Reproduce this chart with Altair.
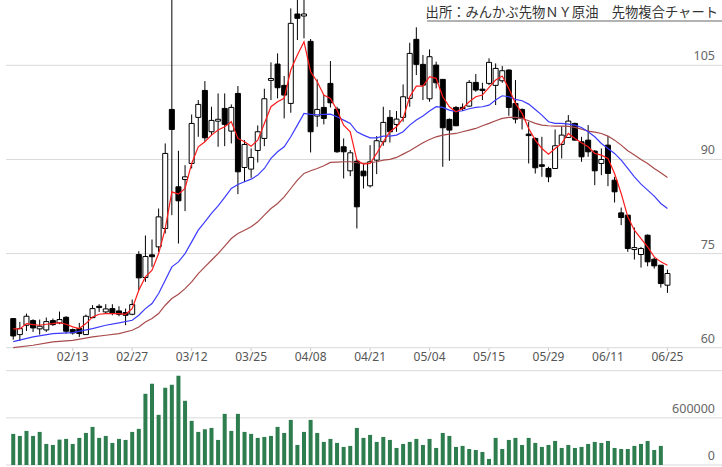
import altair as alt
import pandas as pd

TITLE = "出所：みんかぶ先物ＮＹ原油　先物複合チャート"

OPEN = [64.64, 62.09, 63.58, 64.32, 63.00, 62.83, 64.32, 63.95, 64.85, 62.89,
        63.05, 62.09, 64.80, 66.60, 65.70, 66.23, 65.86, 65.60, 65.33, 74.85,
        71.18, 74.80, 76.07, 79.00, 97.97, 85.64, 86.81, 89.36, 96.70, 101.00,
        94.41, 96.10, 98.13, 94.52, 100.52, 88.72, 88.46, 91.43, 93.35, 102.60,
        105.20, 101.80, 98.93, 113.18, 112.86, 108.82, 96.91, 98.29, 102.12, 98.03,
        92.02, 88.19, 89.73, 88.14, 85.80, 89.89, 92.82, 96.70, 95.58, 96.70,
        99.73, 109.14, 105.15, 99.67, 105.04, 102.76, 96.38, 98.29, 98.30, 98.50,
        102.28, 101.20, 102.12, 101.80, 102.54, 104.25, 98.93, 97.97, 94.04, 93.35,
        89.15, 88.56, 88.56, 92.39, 93.51, 95.74, 92.82, 93.08, 91.33, 89.36,
        92.28, 86.70, 81.49, 81.12, 75.64, 74.85, 77.93, 74.10, 73.15, 69.96]
HIGH = [64.70, 64.11, 65.44, 64.53, 64.48, 64.80, 64.64, 65.76, 65.01, 63.05,
        63.95, 65.28, 66.77, 66.93, 66.93, 66.93, 66.61, 66.23, 67.67, 75.38,
        77.88, 77.24, 82.18, 92.55, 118.0, 91.38, 89.09, 97.17, 99.46, 102.49,
        98.40, 100.52, 100.52, 98.77, 101.69, 93.08, 91.75, 95.42, 101.27, 105.47,
        106.90, 103.29, 114.08, 117.0, 117.0, 109.19, 102.76, 100.26, 105.68, 98.40,
        93.35, 91.49, 90.00, 89.36, 92.28, 93.72, 98.40, 97.87, 97.71, 101.96,
        108.60, 111.05, 106.64, 107.54, 105.58, 102.76, 96.54, 98.50, 98.93, 102.65,
        103.61, 102.22, 106.11, 105.31, 104.88, 104.35, 102.65, 98.13, 96.00, 93.51,
        93.61, 88.83, 94.78, 95.31, 97.07, 95.85, 93.61, 95.47, 91.49, 91.75,
        93.72, 87.23, 82.34, 81.12, 79.15, 76.07, 78.04, 74.37, 73.15, 72.45]
LOW = [61.29, 61.08, 62.67, 62.51, 62.09, 62.51, 63.47, 63.74, 62.25, 62.09,
       61.72, 62.09, 64.69, 65.70, 65.44, 65.17, 65.01, 63.58, 65.17, 69.16,
       70.49, 72.88, 75.27, 78.20, 81.12, 76.60, 81.76, 88.56, 93.61, 92.82,
       93.88, 92.02, 92.12, 92.55, 84.47, 86.38, 87.07, 89.52, 92.12, 99.46,
       99.73, 96.54, 97.44, 109.03, 109.30, 91.11, 95.21, 95.58, 98.29, 91.06,
       86.97, 87.34, 79.00, 85.37, 85.53, 87.66, 92.18, 92.71, 94.41, 96.01,
       98.40, 103.45, 99.46, 99.20, 101.32, 88.83, 89.79, 95.31, 97.71, 98.40,
       100.79, 99.46, 101.85, 98.66, 102.22, 96.96, 95.74, 94.78, 89.36, 87.76,
       87.23, 86.38, 88.56, 90.16, 93.51, 92.98, 89.63, 90.42, 85.90, 87.50,
       85.74, 83.14, 79.53, 75.27, 74.05, 72.77, 72.98, 72.61, 69.58, 68.73]
CLOSE = [61.87, 63.05, 65.01, 63.15, 63.42, 64.16, 63.68, 64.48, 62.62, 62.35,
         62.25, 65.01, 66.23, 66.40, 66.18, 65.54, 65.33, 65.17, 66.87, 71.13,
         74.53, 74.50, 80.85, 90.96, 94.78, 83.41, 87.23, 95.74, 98.77, 93.45,
         96.22, 96.40, 95.58, 98.29, 88.03, 92.39, 90.32, 94.41, 99.67, 102.90,
         101.43, 100.26, 111.69, 112.49, 113.18, 94.41, 97.97, 96.54, 99.03, 91.22,
         91.22, 91.06, 82.45, 87.39, 89.63, 92.98, 95.90, 94.41, 96.43, 99.99,
         106.90, 105.15, 101.85, 106.37, 102.22, 95.05, 94.68, 95.37, 98.10, 102.28,
         101.06, 100.98, 105.47, 104.51, 104.14, 98.29, 96.43, 96.54, 93.80, 88.67,
         88.90, 87.23, 92.18, 93.88, 96.11, 93.08, 90.42, 91.22, 88.19, 90.00,
         87.77, 84.84, 80.75, 75.80, 75.96, 75.80, 73.68, 73.04, 70.22, 71.82]

MA_RED = [62.99, 62.99, 63.84, 63.68, 63.58, 63.74, 63.84, 64.00, 63.74, 63.31,
          63.05, 63.84, 64.91, 65.33, 65.44, 65.44, 65.44, 65.33, 66.23, 69.16,
          71.28, 72.35, 75.00, 78.99, 84.84, 84.47, 85.37, 89.36, 92.02, 92.82,
          93.88, 94.68, 95.21, 96.01, 93.35, 92.82, 92.12, 93.08, 95.74, 98.40,
          99.20, 99.73, 104.25, 106.64, 108.76, 103.98, 102.38, 100.26, 99.73, 97.87,
          95.47, 94.41, 89.89, 89.25, 89.36, 90.96, 92.82, 94.41, 95.21, 96.54,
          99.99, 101.69, 101.69, 103.18, 102.92, 99.99, 98.40, 97.60, 98.13, 99.20,
          99.99, 100.26, 101.48, 102.65, 103.29, 101.32, 98.93, 97.34, 94.94, 93.08,
          91.75, 90.85, 91.75, 92.55, 94.14, 93.35, 92.66, 92.02, 90.96, 90.69,
          90.16, 87.77, 84.58, 80.85, 78.73, 77.40, 76.07, 74.47, 73.68, 73.15]

MA_IDX = [0, 3, 6, 9, 12, 14, 16, 18] + list(range(19, 100))
MA_BLUE = [60.97, 61.72, 62.25, 62.41, 63.05, 63.58, 63.95, 64.37,
           65.17, 66.23, 67.03, 68.63, 70.75, 72.88, 73.68, 75.00, 76.87, 78.73,
           80.06, 81.39, 82.61, 83.94, 85.37, 86.01, 86.44, 86.86, 87.50, 88.56,
           90.16, 91.22, 92.02, 93.61, 95.47, 97.34, 97.17, 97.12, 97.17, 97.23,
           96.80, 96.27, 95.74, 94.41, 93.88, 93.45, 93.45, 93.72, 93.72, 93.88,
           94.41, 95.47, 96.27, 96.91, 97.71, 98.40, 98.29, 97.87, 97.60, 97.76,
           98.08, 98.29, 98.40, 98.66, 99.46, 100.15, 99.99, 99.57, 99.36, 98.82,
           97.97, 97.07, 96.01, 95.74, 95.74, 95.63, 95.47, 95.10, 94.41, 93.61,
           92.55, 91.75, 90.96, 89.89, 88.56, 87.23, 86.06, 85.11, 84.15, 82.98, 82.18]
MA_BROWN = [60.01, 60.39, 60.92, 61.18, 61.72, 61.98, 62.25, 62.78,
            63.31, 64.11, 64.64, 65.44, 66.77, 67.83, 68.52, 69.42, 70.49, 71.82,
            72.88, 73.94, 75.00, 76.18, 77.40, 78.20, 78.73, 79.26, 80.06, 81.12,
            82.18, 82.98, 84.04, 85.37, 86.70, 87.77, 88.19, 88.56, 88.99, 89.52,
            89.57, 89.63, 89.63, 89.47, 89.36, 89.47, 89.63, 89.89, 90.00, 90.32,
            90.85, 91.38, 92.02, 92.66, 93.19, 93.61, 93.88, 94.04, 94.14, 94.41,
            94.68, 94.94, 95.37, 95.74, 96.17, 96.54, 96.70, 96.70, 96.54, 96.17,
            95.74, 95.47, 95.37, 95.31, 95.31, 95.26, 95.10, 94.84, 94.52, 94.36,
            94.14, 93.72, 93.08, 92.28, 91.38, 90.69, 90.00, 89.36, 88.56, 87.87, 87.13]

VOLUME = [396000, 370000, 434000, 370000, 421000, 268000, 255000, 323000, 332000, 268000,
          345000, 408000, 485000, 345000, 370000, 281000, 332000, 319000, 421000, 460000,
          906000, 1034000, 638000, 983000, 1021000, 1136000, 817000, 562000, 421000, 455000,
          472000, 319000, 651000, 434000, 651000, 421000, 396000, 345000, 357000, 370000,
          485000, 408000, 574000, 255000, 421000, 574000, 408000, 294000, 332000, 281000,
          230000, 243000, 472000, 345000, 383000, 294000, 357000, 319000, 217000, 268000,
          294000, 332000, 255000, 332000, 217000, 408000, 370000, 230000, 243000, 204000,
          191000, 166000, 77000, 345000, 204000, 319000, 345000, 255000, 345000, 281000,
          230000, 255000, 306000, 217000, 255000, 217000, 230000, 268000, 294000, 281000,
          306000, 217000, 204000, 204000, 243000, 268000, 306000, 191000, 243000]

DATE_IDX = [9, 18, 27, 36, 45, 54, 63, 72, 81, 90, 99]
DATE_LABELS = ["02/13", "02/27", "03/12", "03/25", "04/08", "04/21",
               "05/04", "05/15", "05/29", "06/11", "06/25"]
PRICE_TICKS = [60, 75, 90, 105]
VOL_TICKS = [0, 600000, 1200000]
VOL_LABELS = ["0", "600000", ""]

W, H = 716, 467
XS = alt.Scale(domain=[-0.34, 106.5], nice=False, zero=False)
PS = alt.Scale(domain=[60, 115.41], range=[347.7, 0], nice=False, zero=False)
VS = alt.Scale(domain=[0, 1200000], range=[465, 370.7], nice=False, zero=False)

n = len(CLOSE)
candles = pd.DataFrame({
    "i": list(range(n)), "o": OPEN, "h": HIGH, "l": LOW, "c": CLOSE,
})
candles["lo"] = candles[["o", "c"]].min(axis=1)
candles["hi"] = candles[["o", "c"]].max(axis=1)
red = pd.DataFrame({"i": list(range(n)), "v": MA_RED})
blue = pd.DataFrame({"i": MA_IDX, "v": MA_BLUE})
brown = pd.DataFrame({"i": MA_IDX, "v": MA_BROWN})
vol = pd.DataFrame({"i": list(range(len(VOLUME))), "v": VOLUME})
dates = pd.DataFrame({"i": DATE_IDX, "d": DATE_LABELS})
pt = pd.DataFrame({"p": PRICE_TICKS, "lab": [str(p) for p in PRICE_TICKS]})
vt = pd.DataFrame({"p": VOL_TICKS, "lab": VOL_LABELS})
tt = pd.DataFrame({"t": [TITLE]})

X = alt.X("i:Q", scale=XS, axis=None)

price_grid = alt.Chart(pt).mark_rule(color="#d9d9d9", strokeWidth=1).encode(
    y=alt.Y("p:Q", scale=PS, axis=None), x=alt.value(0), x2=alt.value(W))
price_lab = alt.Chart(pt).mark_text(align="right", baseline="bottom", dy=-2,
                                    fontSize=12.5, font="Noto Sans", color="#666").encode(
    y=alt.Y("p:Q", scale=PS, axis=None), x=alt.value(709), text="lab:N")
vol_grid = alt.Chart(vt).mark_rule(color="#d9d9d9", strokeWidth=1).encode(
    y=alt.Y("p:Q", scale=VS, axis=None), x=alt.value(0), x2=alt.value(W))
vol_lab = alt.Chart(vt).mark_text(align="right", baseline="bottom", dy=-2,
                                  fontSize=12.5, font="Noto Sans", color="#666").encode(
    y=alt.Y("p:Q", scale=VS, axis=None), x=alt.value(709), text="lab:N")

date_ticks = alt.Chart(dates).mark_rule(color="#cccccc").encode(
    x=X, y=alt.value(348), y2=alt.value(351))
date_lab = alt.Chart(dates).mark_text(align="center", baseline="middle", fontSize=12,
                                      font="Noto Sans", color="#555").encode(
    x=X, y=alt.value(357), text="d:N")

wick = alt.Chart(candles).mark_rule(color="black", strokeWidth=1).encode(
    x=X, y=alt.Y("l:Q", scale=PS, axis=None), y2="h:Q")
body = alt.Chart(candles).mark_bar(width=5, stroke="black", strokeWidth=1).encode(
    x=X, y=alt.Y("lo:Q", scale=PS, axis=None), y2="hi:Q",
    fill=alt.condition("datum.c >= datum.o", alt.value("white"), alt.value("black")))

def ma_line(df, color):
    return alt.Chart(df).mark_line(color=color, strokeWidth=1.2).encode(
        x=X, y=alt.Y("v:Q", scale=PS, axis=None))

brown_l = ma_line(brown, "#a84a4a")
blue_l = ma_line(blue, "#3b3bff")
red_l = ma_line(red, "#ff1a1a")

vol_bars = alt.Chart(vol).mark_bar(width=4, color="#2e7d4f").encode(
    x=X, y=alt.Y("v:Q", scale=VS, axis=None), y2=alt.datum(0))

title_t = alt.Chart(tt).mark_text(align="right", baseline="middle", fontSize=13.3,
                                  font="Noto Sans CJK JP", color="#333").encode(
    x=alt.value(712), y=alt.value(12.5), text="t:N")
title_u = alt.Chart(tt).mark_rule(color="#999", strokeWidth=1.5).encode(
    x=alt.value(421), x2=alt.value(W), y=alt.value(21))

chart = alt.layer(
    price_grid, vol_grid, date_ticks, wick, body, brown_l, blue_l, red_l,
    vol_bars, price_lab, vol_lab, date_lab, title_t, title_u
).resolve_scale(y="independent").properties(
    width=W, height=H,
    padding={"left": 6, "top": 0, "right": 0, "bottom": 0},
    autosize=alt.AutoSizeParams(type="none"),
).configure_view(stroke=None)

chart.save("out.html", embed_options={"renderer": "svg", "actions": False})
